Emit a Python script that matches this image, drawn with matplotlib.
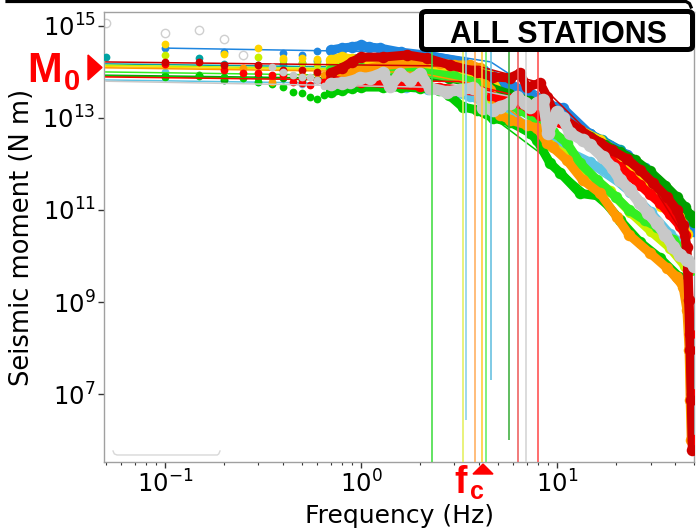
import matplotlib
matplotlib.use("Agg")
import matplotlib.pyplot as plt
from matplotlib.patches import FancyBboxPatch, Polygon
from matplotlib.lines import Line2D
from matplotlib.ticker import FixedLocator, NullLocator, LogLocator, NullFormatter

# ---------------- data ----------------
# observed displacement spectra converted to seismic moment, one per station
grey_hollow_f = [0.05, 0.1, 0.15, 0.2, 0.25]
grey_hollow_m = [1.16e15, 7.0e14, 8.2e14, 5.2e14, 2.3e14]

lightblue_f = [0.1, 0.2, 0.3, 0.5, 0.8, 1.0, 1.3, 1.7, 2.2, 3.0, 3.6, 4.5, 5.7, 7.3, 9.2,
               11.6, 14.7, 18.6, 23.6, 30, 37.7, 45]
lightblue_m = [1.0e14, 6.7e13, 6.0e13, 5.5e13, 5.2e13, 5.2e13, 5.0e13, 4.7e13, 4.3e13, 3.5e13,
               3.0e13, 2.0e13, 1.2e13, 6e12, 3e12, 1.8e12, 1.1e12, 6e11, 2.5e11, 9e10, 3e10,
               1.5e10]

teal_f = [0.05, 0.15, 0.2, 0.3, 0.4, 0.5, 0.6, 0.8, 1.0, 1.5, 2.0, 2.5, 3.4, 4.5, 5.7, 7.3,
          9.2, 11.6, 14.7, 17, 21, 26.5, 33, 40, 46]
teal_m = [2.1e14, 2.0e14, 1.5e14, 1.4e14, 1.5e14, 1.6e14, 1.7e14, 1.8e14, 2.0e14, 2.1e14,
          1.9e14, 1.7e14, 1.3e14, 8e13, 5e13, 3.0e13, 1.8e13, 8e12, 4.5e12, 3.3e12, 2.0e12,
          9e11, 1.8e11, 1.0e11, 6e10]

blue_f = [0.1, 0.2, 0.4, 0.5, 0.6, 0.7, 0.8, 0.9, 1.0, 1.1, 1.25, 1.6, 2.2, 3.3, 4.2, 5.5,
          7.3, 9.2, 10.7, 14.7, 18.6, 22.8, 28, 32.4, 36, 40, 45, 50]
blue_m = [3.3e14, 2.7e14, 2.6e14, 2.3e14, 2.8e14, 3.0e14, 3.3e14, 3.5e14, 3.8e14, 3.5e14,
          3.3e14, 2.7e14, 2.3e14, 1.65e14, 1.1e14, 6.1e13, 3.3e13, 1.9e13, 1.65e13, 4.5e12,
          2.5e12, 1.6e12, 8e11, 4.5e11, 2.5e11, 1.3e11, 6e10, 3.5e10]

yellowgreen_f = [0.1, 0.3, 0.4, 0.5, 0.6, 0.7, 0.8, 1.0, 1.5, 2.0, 2.8, 3.6, 4.0, 4.55, 5.5,
                 7.3, 9.2, 11.6, 14.7, 18.6, 23.6, 30, 37.7, 45]
yellowgreen_m = [2.3e14, 2.1e14, 1.8e14, 1.6e14, 1.5e14, 1.4e14, 1.4e14, 1.3e14, 1.2e14,
                 1.1e14, 9e13, 7e13, 6e13, 1.5e13, 1.0e13, 5.5e12, 2.6e12, 1.4e12, 5.5e11,
                 2.6e11, 9e10, 3.5e10, 1.5e10, 6e9]

yellow_f = [0.1, 0.2, 0.3, 0.4, 0.5, 0.6, 0.7, 0.8, 0.9, 1.0, 1.4, 2.0, 2.8, 3.6, 4.5, 5.1,
            6.5, 8.2, 10.4, 13.1, 16.6, 21, 26.5, 30, 34, 38, 42, 46]
yellow_m = [4.1e14, 2.5e14, 3.3e14, 2.0e14, 2.0e14, 1.9e14, 1.8e14, 2.1e14, 1.9e14, 1.8e14,
            1.65e14, 1.5e14, 1.28e14, 1.1e14, 8.6e13, 3.5e13, 2.1e13, 1.5e13, 1.0e13, 5.5e12,
            3.3e12, 1.6e12, 6e11, 3e11, 1.2e11, 1.1e11, 1.0e11, 3e10]

darkgreen_f = [0.1, 0.15, 0.2, 0.3, 0.4, 0.5, 0.6, 0.7, 0.8, 1.0, 1.4, 2.0, 2.8, 3.6, 4.5,
               5.7, 7.3, 9.2, 11.6, 14.7, 17.6, 21, 25, 29.8, 35.7, 40.9, 45, 47.8, 50]
darkgreen_m = [8.2e13, 8.6e13, 6.7e13, 7.8e13, 7.4e13, 6.7e13, 7.0e13, 7.4e13, 7.8e13, 8.2e13,
               8.6e13, 8.2e13, 7.4e13, 6.1e13, 4.7e13, 3.3e13, 2.3e13, 1.5e13, 7.0e12, 3.9e12,
               2.6e12, 1.8e12, 1.22e12, 6.9e11, 3.4e11, 1.9e11, 1.16e11, 7.8e10, 5.6e10]

lime_f = [0.7, 0.8, 1.0, 1.5, 2.0, 3.0, 4.0, 5.0, 6.5, 8.2, 9.5, 11.2, 13.1, 16.0, 20.0,
          23.3, 28, 32.3, 39, 45, 48]
lime_m = [1.1e14, 1.2e14, 1.2e14, 1.1e14, 1.0e14, 8e13, 5.5e13, 2.6e13, 1.5e13, 8e12, 5e12,
          2.9e12, 1.05e12, 4.5e11, 1.9e11, 1.0e11, 6e10, 4.3e10, 2.2e10, 1.2e10, 5e9]

green_f = [0.1, 0.15, 0.2, 0.25, 0.3, 0.35, 0.4, 0.45, 0.5, 0.55, 0.6, 0.65, 0.7, 0.8, 0.9,
           1.0, 1.3, 1.6, 2.0, 2.5, 2.8, 3.3, 3.9, 4.7, 5.75, 7.3, 7.9, 9.2, 10.4, 13.1, 16.6,
           21, 26.5, 33.5, 42]
green_m = [7.8e13, 8.2e13, 7.8e13, 7.4e13, 6.1e13, 5.5e13, 4.7e13, 3.7e13, 3.5e13, 2.9e13,
           2.6e13, 3.2e13, 3.7e13, 4.1e13, 4.5e13, 4.7e13, 4.7e13, 4.7e13, 4.5e13, 4.1e13,
           3.2e13, 1.73e13, 1.5e13, 1.0e13, 8.2e12, 4.7e12, 3.3e12, 1.05e12, 6.4e11, 2.3e11,
           2.0e11, 6e10, 2.0e10, 9e9, 3.5e9]

orange_f = [0.25, 0.35, 0.5, 0.6, 0.65, 0.75, 0.8, 1.0, 1.25, 1.58, 2.0, 2.53, 3.0, 3.6, 4.05,
            4.55, 5.1, 5.75, 7.0, 7.9, 8.9, 9.5, 11.2, 13.5, 16.6, 20.2, 23.3, 29.8, 36.4,
            40.9, 44, 46, 47.2, 47.8, 48.4]
orange_m = [1.22e14, 6.1e13, 8.6e13, 9.5e13, 8.6e13, 9.5e13, 9.5e13, 1.1e14, 1.35e14, 1.49e14,
            1.57e14, 1.57e14, 1.42e14, 1.42e14, 1.22e14, 4.1e13, 1.16e13, 9.1e12, 7.0e12,
            6.1e12, 2.9e12, 2.3e12, 1.22e12, 4.5e11, 2.3e11, 7.0e10, 2.9e10, 1.16e10, 5.5e9,
            3.5e9, 2.1e9, 6.7e8, 9.1e7, 7.4e6, 1.0e6]

red_f = [0.1, 0.2, 0.25, 0.3, 0.35, 0.4, 0.45, 0.5, 0.55, 0.6, 0.65, 0.7, 0.8, 1.0, 1.4, 2.0,
         2.5, 3.2, 4.0, 4.5, 5.1, 5.75, 6.5, 7.3, 8.2, 9.2, 10.4, 11.6, 13.1, 14.7, 16.6, 18.6,
         21, 23.6, 26.5, 29.8, 33.5, 37.7, 42.4, 45, 46.6, 47.8, 48.6, 49.3]
red_m = [1.49e14, 1.1e14, 9.5e13, 9.5e13, 8.6e13, 8.6e13, 6.1e13, 5.7e13, 5.2e13, 6.7e13,
         6.1e13, 7.0e13, 6.1e13, 6.1e13, 5.5e13, 5.0e13, 4.5e13, 4.1e13, 3.7e13, 3.2e13,
         2.6e13, 2.5e13, 2.1e13, 1.5e13, 1.16e13, 1.0e13, 8.2e12, 5.5e12, 4.3e12, 3.3e12,
         2.3e12, 1.3e12, 8.5e11, 5.5e11, 3.5e11, 2.2e11, 1.42e11, 8.0e10, 4.5e10, 2.9e10,
         5.0e9, 2.0e8, 1.0e7, 1.0e6]

darkred_f = [0.1, 0.15, 0.2, 0.3, 0.4, 0.5, 0.6, 0.7, 0.8, 0.9, 1.0, 1.29, 1.72, 2.17, 2.84,
             3.9, 4.7, 5.75, 6.5, 7.0, 8.2, 8.9, 9.5, 10.7, 13.1, 16.6, 19.0, 22.7, 26.5, 30.8,
             36.4, 40.9, 44, 46, 47, 47.8, 48.4, 49]
darkred_m = [1.65e14, 1.65e14, 1.42e14, 1.42e14, 1.1e14, 1.1e14, 1.0e14, 9.5e13, 1.22e14,
             1.65e14, 2.1e14, 2.1e14, 2.34e14, 2.0e14, 1.42e14, 1.0e14, 7.8e13, 7.4e13, 9.5e13,
             4.7e13, 5.7e13, 2.9e13, 1.5e13, 1.0e13, 5.5e12, 2.9e12, 2.0e12, 1.3e12, 7.4e11,
             3.9e11, 1.9e11, 1.0e11, 4.7e10, 1.6e10, 1.1e9, 9.1e7, 7.4e6, 6.1e5]

grey_f = [0.35, 0.4, 0.45, 0.5, 0.55, 0.6, 0.65, 0.7, 0.8, 0.88, 0.99, 1.11, 1.29, 1.41, 1.58,
          1.78, 2.0, 2.25, 2.75, 3.2, 3.73, 4.05, 4.2, 4.7, 5.1, 5.75, 6.25, 6.85, 7.3, 7.9,
          8.5, 9.0, 10.0, 10.7, 11.6, 13.5, 14.7, 17.1, 19.2, 21, 23.6, 26.5, 29.1, 32.3,
          35.7, 39.2, 42.4, 46, 50]
grey_m = [1.28e14, 1.0e14, 8.6e13, 7.8e13, 7.8e13, 6.7e13, 5.0e13, 5.5e13, 5.8e13, 6.1e13,
          7.4e13, 7.4e13, 9.5e13, 5.0e13, 9.0e13, 6.7e13, 9.0e13, 4.5e13, 3.7e13, 4.1e13,
          4.5e13, 3.5e13, 1.65e13, 1.5e13, 1.73e13, 2.1e13, 2.9e13, 2.1e13, 1.73e13, 2.1e13,
          2.5e13, 4.7e12, 1.35e13, 1.0e13, 4.7e12, 3.3e12, 2.6e12, 1.42e12, 8.2e11, 4.5e11,
          2.7e11, 1.42e11, 8.6e10, 5.2e10, 2.9e10, 1.6e10, 1.05e10, 8.2e9, 6.2e9]

# fitted source models
blue_model_f = [0.1, 2.3, 4.6, 9.2, 20, 45]
blue_model_m = [3.3e14, 2.64e14, 1.65e14, 2.4e13, 2.2e12, 6e10]
darkred_model_f = [0.05, 4, 8, 16, 30, 45]
darkred_model_m = [1.65e14, 1.32e14, 6e13, 3.2e12, 4e11, 2.5e10]
teal_model_f = [0.05, 2.5, 5, 10, 20, 45]
teal_model_m = [1.5e14, 1.2e14, 6e13, 1.2e13, 2.2e12, 7e10]
yellow_model_f = [0.05, 2.07, 4.14, 8.28, 20, 45]
yellow_model_m = [1.3e14, 1.04e14, 6e13, 1.4e13, 1.8e12, 4e10]
orange_model_f = [0.05, 1.91, 3.82, 7.64, 20, 45]
orange_model_m = [1.23e14, 9.8e13, 5.5e13, 6e12, 8e10, 1.5e9]
green_model_f = [0.05, 1.15, 2.3, 4.6, 9.2, 20, 45]
green_model_m = [8.2e13, 6.6e13, 4.0e13, 1.1e13, 1.2e12, 7e10, 2.5e9]
red_model_f = [0.05, 3.15, 6.3, 12.6, 25, 45]
red_model_m = [7.8e13, 6.2e13, 3.0e13, 5e12, 5e11, 3e10]
lightblue_model_f = [0.05, 1.72, 3.43, 6.86, 20, 45]
lightblue_model_m = [6.7e13, 5.4e13, 3.2e13, 8e12, 3.5e11, 2e10]
grey_model_f = [0.05, 3.48, 6.95, 13.9, 25, 45]
grey_model_m = [6.3e13, 4.5e13, 2.5e13, 3.0e12, 2e11, 1e10]
yellowgreen_model_f = [0.05, 1.65, 3.3, 6.6, 20, 45]
yellowgreen_model_m = [1.4e14, 1.12e14, 6.5e13, 7e12, 2e11, 6e9]
lime_model_f = [0.05, 2.17, 4.34, 8.68, 20, 45]
lime_model_m = [1.0e14, 8e13, 4.5e13, 7e12, 1.9e11, 1.2e10]
darkgreen_model_f = [0.05, 2.85, 5.7, 11.4, 25, 45]
darkgreen_model_m = [8.5e13, 6.8e13, 3.5e13, 7e12, 1.2e12, 1.16e11]

# corner frequencies (vertical lines) and where each line stops at the bottom
fc_values = [2.30, 3.3, 3.43, 3.82, 4.14, 4.34, 4.6, 5.7, 6.3, 6.95, 8.0]
fc_line_bottom = [None, None, 2.7e6, None, None, None, 2.0e7, 1.0e6, None, None, None]
fc_line_top = 2.7e14

y_ticks = [1e7, 1e9, 1e11, 1e13, 1e15]
x_limits = (0.0489, 50.0)
y_limits = (3.33e5, 2.01e15)

# ---------------- figure ----------------
W, H = 696, 529
fig = plt.figure(figsize=(W / 100, H / 100), dpi=100)
ax = fig.add_axes([104 / W, 1 - 462 / H, 590 / W, 450 / H])
ax.set_xscale('log')
ax.set_yscale('log')

C = {
    'lightblue': '#5cc4e4', 'teal': '#00a3a3', 'blue': '#1f86e0', 'yellowgreen': '#c8f000',
    'yellow': '#ffd500', 'darkgreen': '#00a000', 'lime': '#33ee22', 'green': '#00cc00',
    'orange': '#ff9900', 'red': '#ff0000', 'darkred': '#d00000', 'grey': '#c8c8c8',
}

stations = [
    ('lightblue', lightblue_f, lightblue_m, lightblue_model_f, lightblue_model_m),
    ('teal', teal_f, teal_m, teal_model_f, teal_model_m),
    ('blue', blue_f, blue_m, blue_model_f, blue_model_m),
    ('yellowgreen', yellowgreen_f, yellowgreen_m, yellowgreen_model_f, yellowgreen_model_m),
    ('yellow', yellow_f, yellow_m, yellow_model_f, yellow_model_m),
    ('darkgreen', darkgreen_f, darkgreen_m, darkgreen_model_f, darkgreen_model_m),
    ('lime', lime_f, lime_m, lime_model_f, lime_model_m),
    ('green', green_f, green_m, green_model_f, green_model_m),
    ('orange', orange_f, orange_m, orange_model_f, orange_model_m),
    ('red', red_f, red_m, red_model_f, red_model_m),
    ('darkred', darkred_f, darkred_m, darkred_model_f, darkred_model_m),
    ('grey', grey_f, grey_m, grey_model_f, grey_model_m),
]

# hollow grey station (low frequencies only visible)
ax.plot(grey_hollow_f, grey_hollow_m, 'o', ms=6, mfc='none', mec='#cfcfcf', mew=1.0, zorder=1)

for i, (name, f, m, mf, mm) in enumerate(stations):
    col = C[name]
    z = 2 + i
    lf = [a for a in f if a < 0.75]
    lm = [b for a, b in zip(f, m) if a < 0.75]
    hf = [a for a in f if a >= 0.7]
    hm = [b for a, b in zip(f, m) if a >= 0.7]
    ax.plot(lf, lm, 'o', ms=5.6, color=col, mec='none', zorder=z)
    lw = 8.0 if name == 'grey' else 6.5
    ax.plot(hf, hm, '-o', lw=lw, ms=lw + 1.8, color=col, mec='none', zorder=z,
            solid_joinstyle='round', solid_capstyle='round')
    ax.plot(mf, mm, '-', lw=1.1, color=col, zorder=z + 0.5)

fc_colors = ['#44dd44', '#e4f060', '#88d0e8', '#ffb060', '#ffcc33', '#66ee66', '#66c0e0',
             '#40b040', '#ee6060', '#d4d4d4', '#ff5050']
for fcv, bot, col in zip(fc_values, fc_line_bottom, fc_colors):
    ax.vlines(fcv, bot if bot is not None else y_limits[0], fc_line_top, colors=col,
              lw=1.3, zorder=30, alpha=0.9)

ax.set_xlim(*x_limits)
ax.set_ylim(*y_limits)
ax.yaxis.set_major_locator(FixedLocator(y_ticks))
ax.yaxis.set_minor_locator(NullLocator())
ax.xaxis.set_major_locator(LogLocator(base=10))
ax.xaxis.set_minor_locator(LogLocator(base=10, subs=range(2, 10)))
ax.xaxis.set_minor_formatter(NullFormatter())
for s in ax.spines.values():
    s.set_color('#a0a0a0')
    s.set_linewidth(1.0)
ax.tick_params(which='major', length=4, width=1, color='#333333', labelsize=17.5, pad=2)
ax.tick_params(which='minor', length=2.5, width=0.8, color='#333333')

ax.set_xlabel('Frequency (Hz)', fontsize=18, va='baseline')
ax.set_ylabel('Seismic moment (N m)', fontsize=18.5)
ax.xaxis.set_label_coords(0.5, -(523 - 462) / 450)
ax.yaxis.set_label_coords(-0.117, 0.5)

# faint empty legend frame edge at bottom-left
ax.add_line(Line2D([0.0153, 0.0175, 0.022, 0.192, 0.1945, 0.1966],
                   [0.0245, 0.018, 0.0156, 0.0156, 0.018, 0.0245],
                   transform=ax.transAxes, color='#d8d8d8', lw=1.0, zorder=40))

# top black border remnant
fig.add_artist(Line2D([7 / W, 686 / W, 689.5 / W, 691 / W],
                      [1 - 1.5 / H, 1 - 1.5 / H, 1 - 3.5 / H, 1 - 7 / H],
                      transform=fig.transFigure, color='black', lw=2.3))

# "ALL STATIONS" box
box = FancyBboxPatch((421.5 / W, 1 - 49.5 / H), 271 / W, 38 / H,
                     boxstyle='round,pad=0,rounding_size=0.007',
                     transform=fig.transFigure, facecolor='white', edgecolor='black',
                     lw=3.6, zorder=5)
fig.add_artist(box)
fig.text(559 / W, 1 - 43 / H, 'ALL STATIONS', ha='center', va='baseline', fontsize=22,
         fontweight='bold', family='Liberation Sans', zorder=6)

# M0 annotation
red = '#ff0000'
fig.text(27 / W, 1 - 82 / H, 'M', ha='left', va='baseline', fontsize=30, fontweight='bold',
         family='Liberation Sans', color=red)
fig.text(64 / W, 1 - 90 / H, '0', ha='left', va='baseline', fontsize=21, fontweight='bold',
         family='Liberation Sans', color=red)
fig.add_artist(Polygon([(88 / W, 1 - 55 / H), (88 / W, 1 - 80 / H), (102 / W, 1 - 67.5 / H)],
                       closed=True, transform=fig.transFigure, color=red))

# fc annotation
fig.text(454 / W, 1 - 493 / H, 'f', ha='left', va='baseline', fontsize=27, fontweight='bold',
         family='Liberation Sans', color=red)
fig.text(470 / W, 1 - 499 / H, 'c', ha='left', va='baseline', fontsize=18, fontweight='bold',
         family='Liberation Sans', color=red)
fig.add_artist(Polygon([(473 / W, 1 - 474 / H), (493 / W, 1 - 474 / H), (483 / W, 1 - 464 / H)],
                       closed=True, transform=fig.transFigure, color=red))

fig.savefig('out.png', dpi=100)
